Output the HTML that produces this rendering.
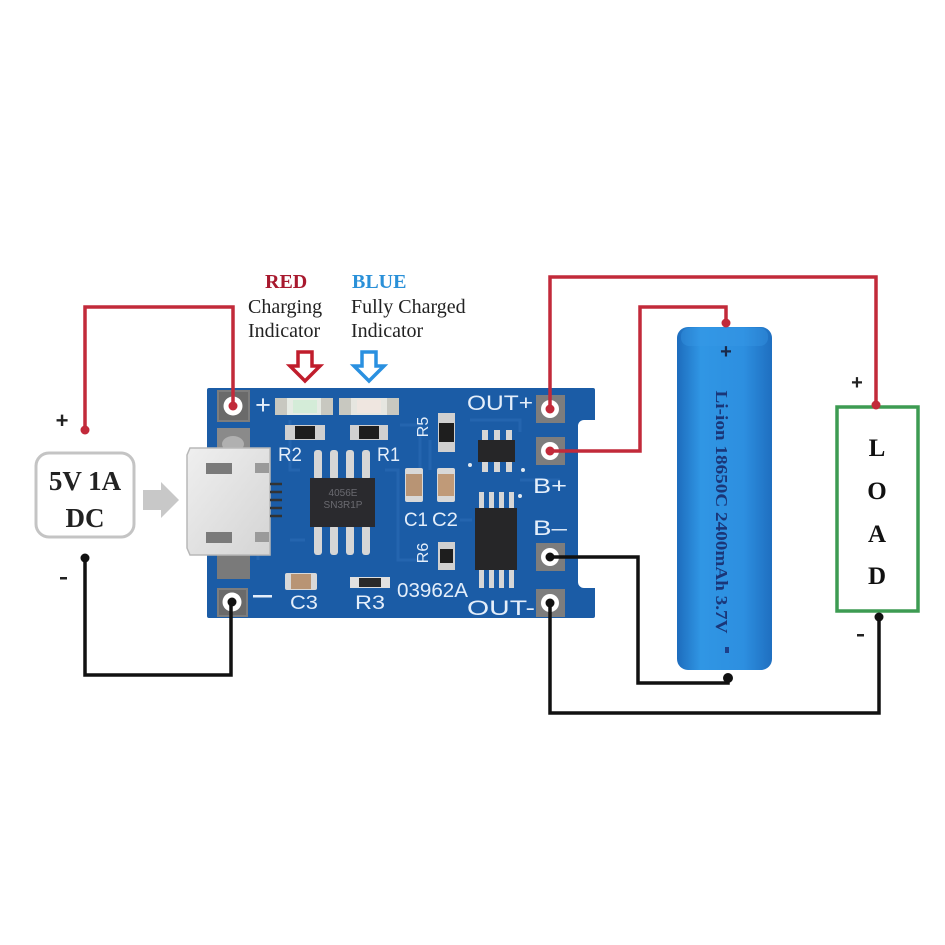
<!DOCTYPE html>
<html><head><meta charset="utf-8"><style>
html,body{margin:0;padding:0;background:#fff;}
svg{display:block;}
</style></head><body>
<svg width="945" height="945" viewBox="0 0 945 945" xmlns="http://www.w3.org/2000/svg">
<defs>
<linearGradient id="bat" x1="0" y1="0" x2="1" y2="0">
<stop offset="0" stop-color="#1d6cbd"/>
<stop offset="0.25" stop-color="#3096e4"/>
<stop offset="0.7" stop-color="#2d8fe0"/>
<stop offset="1" stop-color="#1f6fc0"/>
</linearGradient>
<linearGradient id="usb" x1="0" y1="0" x2="1" y2="1">
<stop offset="0" stop-color="#efefef"/>
<stop offset="1" stop-color="#d4d4d4"/>
</linearGradient>
</defs>
<rect width="945" height="945" fill="#fff"/>

<!-- Top annotation -->
<g font-family="Liberation Serif, serif" font-size="20">
<text x="265" y="288" font-weight="bold" fill="#a8192e">RED</text>
<text x="248" y="313" fill="#222">Charging</text>
<text x="248" y="337" fill="#222">Indicator</text>
<text x="352" y="288" font-weight="bold" fill="#2a90d8">BLUE</text>
<text x="351" y="313" fill="#222">Fully Charged</text>
<text x="351" y="337" fill="#222">Indicator</text>
</g>
<polygon points="298,352 312,352 312,366 320,366 305,381 290,366 298,366" fill="#fff" stroke="#c01d2c" stroke-width="3.5"/>
<polygon points="362,352 376,352 376,366 384,366 369,381 354,366 362,366" fill="#fff" stroke="#2a90e0" stroke-width="3.5"/>

<!-- DC box -->
<rect x="36" y="453" width="98" height="84" rx="13" fill="#fff" stroke="#c4c4c4" stroke-width="3"/>
<g font-family="Liberation Serif, serif" font-weight="bold" font-size="27" fill="#222" text-anchor="middle">
<text x="85" y="490">5V 1A</text>
<text x="85" y="527">DC</text>
</g>
<text x="62" y="428" font-family="Liberation Sans, sans-serif" font-size="22" font-weight="bold" fill="#222" text-anchor="middle">+</text>
<rect x="60" y="577" width="7" height="2.5" fill="#222"/>
<polygon points="143,490 161,490 161,482 179,500 161,518 161,510 143,510" fill="#c8c8c8"/>

<!-- PCB -->
<path d="M209,388 H593 a2,2 0 0 1 2,2 V420 H584 a6,6 0 0 0 -6,6 V582 a6,6 0 0 0 6,6 H595 V616 a2,2 0 0 1 -2,2 H209 a2,2 0 0 1 -2,-2 V390 a2,2 0 0 1 2,-2 Z" fill="#1b5ca6"/>
<!-- traces -->
<g stroke="#2a6cb6" stroke-width="3" fill="none" opacity="0.6">
<path d="M290,420 V470 H300"/>
<path d="M400,425 H420 V470"/>
<path d="M430,440 V470"/>
<path d="M470,420 H520 V432"/>
<path d="M520,480 H560"/>
<path d="M290,540 H305"/>
<path d="M385,470 H398 V560 H420"/>
<path d="M460,520 H472"/>
<path d="M258,470 V560"/>
</g>
<!-- left pads -->
<rect x="217" y="390" width="33" height="32" fill="#7d7d7d"/>
<rect x="219" y="392" width="29" height="28" fill="#6a6a6a"/>
<rect x="217" y="428" width="33" height="24" fill="#8a8a8a"/>
<ellipse cx="233" cy="444" rx="11" ry="8" fill="#b0b0b0"/>
<rect x="217" y="555" width="33" height="24" fill="#7a7a7a"/>
<rect x="217" y="588" width="31" height="29" fill="#7d7d7d"/>
<rect x="219" y="590" width="27" height="25" fill="#6a6a6a"/>
<!-- right pads -->
<g fill="#7d7d7d">
<rect x="536" y="395" width="29" height="28"/>
<rect x="536" y="437" width="29" height="28"/>
<rect x="536" y="543" width="29" height="28"/>
<rect x="536" y="589" width="29" height="28"/>
</g>
<g fill="#fff">
<circle cx="233" cy="406" r="9.5"/>
<circle cx="232" cy="602" r="9.5"/>
<circle cx="550" cy="409" r="9"/>
<circle cx="550" cy="451" r="9"/>
<circle cx="550" cy="557" r="9"/>
<circle cx="550" cy="603" r="9"/>
</g>

<!-- LEDs -->
<rect x="275" y="398" width="58" height="17" fill="#e6ebe4"/>
<rect x="275" y="398" width="12" height="17" fill="#c8c8c0"/>
<rect x="321" y="398" width="12" height="17" fill="#c8c8c0"/>
<rect x="293" y="400" width="24" height="13" fill="#d4ecd8"/>
<rect x="339" y="398" width="60" height="17" fill="#e6e6e0"/>
<rect x="339" y="398" width="12" height="17" fill="#c8c8c0"/>
<rect x="387" y="398" width="12" height="17" fill="#c8c8c0"/>
<rect x="357" y="400" width="24" height="13" fill="#efe6e0"/>

<!-- resistors -->
<g>
<rect x="285" y="425" width="40" height="15" fill="#d0d0d0"/>
<rect x="295" y="426" width="20" height="13" fill="#1e1e1e"/>
<rect x="350" y="425" width="38" height="15" fill="#d0d0d0"/>
<rect x="359" y="426" width="20" height="13" fill="#1e1e1e"/>
<rect x="438" y="413" width="17" height="39" fill="#d0d0d0"/>
<rect x="439" y="423" width="15" height="19" fill="#1e1e1e"/>
<rect x="438" y="542" width="17" height="28" fill="#d0d0d0"/>
<rect x="440" y="549" width="13" height="14" fill="#1e1e1e"/>
<rect x="350" y="577" width="40" height="11" fill="#e0e0e0"/>
<rect x="359" y="578" width="22" height="9" fill="#2a2a2a"/>
</g>
<!-- capacitors -->
<rect x="405" y="468" width="18" height="34" rx="2" fill="#d8d8d8"/>
<rect x="406" y="474" width="16" height="22" fill="#b89474"/>
<rect x="437" y="468" width="18" height="34" rx="2" fill="#d8d8d8"/>
<rect x="438" y="474" width="16" height="22" fill="#c09a78"/>
<rect x="285" y="573" width="32" height="17" rx="2" fill="#d8d8d8"/>
<rect x="291" y="574" width="20" height="15" fill="#b89474"/>

<!-- USB -->
<path d="M190,448 H270 V555 H190 L187,548 V455 Z" fill="url(#usb)" stroke="#b8b8b8" stroke-width="1.5"/>
<rect x="206" y="463" width="26" height="11" fill="#7a7a7a"/>
<rect x="206" y="532" width="26" height="11" fill="#7a7a7a"/>
<rect x="255" y="463" width="14" height="10" fill="#9a9a9a"/>
<rect x="255" y="532" width="14" height="10" fill="#9a9a9a"/>
<g stroke="#333" stroke-width="2.5">
<line x1="270" y1="484" x2="282" y2="484"/>
<line x1="270" y1="492" x2="282" y2="492"/>
<line x1="270" y1="500" x2="282" y2="500"/>
<line x1="270" y1="508" x2="282" y2="508"/>
<line x1="270" y1="516" x2="282" y2="516"/>
</g>

<!-- IC1 -->
<g fill="#d6d6d6">
<rect x="314" y="450" width="8" height="30" rx="3"/>
<rect x="330" y="450" width="8" height="30" rx="3"/>
<rect x="346" y="450" width="8" height="30" rx="3"/>
<rect x="362" y="450" width="8" height="30" rx="3"/>
<rect x="314" y="525" width="8" height="30" rx="3"/>
<rect x="330" y="525" width="8" height="30" rx="3"/>
<rect x="346" y="525" width="8" height="30" rx="3"/>
<rect x="362" y="525" width="8" height="30" rx="3"/>
</g>
<rect x="310" y="478" width="65" height="49" fill="#2a2a2e"/>
<text x="343" y="496" font-family="Liberation Sans, sans-serif" font-size="10" fill="#6a6a70" text-anchor="middle">4056E</text>
<text x="343" y="508" font-family="Liberation Sans, sans-serif" font-size="10" fill="#6a6a70" text-anchor="middle">SN3R1P</text>

<!-- IC2 -->
<g fill="#d6d6d6">
<rect x="482" y="430" width="6" height="12"/>
<rect x="494" y="430" width="6" height="12"/>
<rect x="506" y="430" width="6" height="12"/>
<rect x="482" y="460" width="6" height="12"/>
<rect x="494" y="460" width="6" height="12"/>
<rect x="506" y="460" width="6" height="12"/>
</g>
<rect x="478" y="440" width="37" height="22" fill="#262628"/>
<!-- IC3 -->
<g fill="#d6d6d6">
<rect x="479" y="492" width="5" height="17"/>
<rect x="489" y="492" width="5" height="17"/>
<rect x="499" y="492" width="5" height="17"/>
<rect x="509" y="492" width="5" height="17"/>
<rect x="479" y="569" width="5" height="19"/>
<rect x="489" y="569" width="5" height="19"/>
<rect x="499" y="569" width="5" height="19"/>
<rect x="509" y="569" width="5" height="19"/>
</g>
<rect x="475" y="508" width="42" height="62" fill="#262628"/>
<g fill="#e0e8f0">
<circle cx="470" cy="465" r="2"/>
<circle cx="523" cy="470" r="2"/>
<circle cx="520" cy="496" r="2"/>
</g>

<!-- silkscreen labels -->
<g font-family="Liberation Sans, sans-serif" fill="#e4eefa">
<text x="263" y="414" font-size="27" text-anchor="middle">+</text>
<rect x="253" y="595" width="19" height="2.5"/>
<text x="278" y="461" font-size="19" textLength="24" lengthAdjust="spacingAndGlyphs">R2</text>
<text x="377" y="461" font-size="19" textLength="23" lengthAdjust="spacingAndGlyphs">R1</text>
<text transform="translate(428,427) rotate(-90)" font-size="16" text-anchor="middle">R5</text>
<text transform="translate(428,553) rotate(-90)" font-size="16" text-anchor="middle">R6</text>
<text x="404" y="526" font-size="19" textLength="24" lengthAdjust="spacingAndGlyphs">C1</text>
<text x="432" y="526" font-size="19" textLength="26" lengthAdjust="spacingAndGlyphs">C2</text>
<text x="290" y="609" font-size="19" textLength="28" lengthAdjust="spacingAndGlyphs">C3</text>
<text x="355" y="609" font-size="19" textLength="30" lengthAdjust="spacingAndGlyphs">R3</text>
<text x="397" y="597" font-size="20" textLength="71" lengthAdjust="spacingAndGlyphs">03962A</text>
<text x="467" y="410" font-size="21" textLength="66" lengthAdjust="spacingAndGlyphs">OUT+</text>
<text x="533" y="493" font-size="21" textLength="34" lengthAdjust="spacingAndGlyphs">B+</text>
<text x="533" y="535" font-size="21" textLength="34" lengthAdjust="spacingAndGlyphs">B–</text>
<text x="467" y="615" font-size="21" textLength="68" lengthAdjust="spacingAndGlyphs">OUT-</text>
</g>

<!-- Battery -->
<rect x="677" y="327" width="95" height="343" rx="11" fill="url(#bat)"/>
<rect x="681" y="328" width="87" height="18" rx="8" fill="#3a9ce8" opacity="0.35"/>
<text x="726" y="358" font-family="Liberation Sans, sans-serif" font-size="20" font-weight="bold" fill="#1a2a4a" text-anchor="middle">+</text>
<text transform="translate(716,512) rotate(90)" font-family="Liberation Serif, serif" font-size="17" font-weight="bold" fill="#1a3678" text-anchor="middle" textLength="243" lengthAdjust="spacingAndGlyphs">Li-ion 18650C 2400mAh 3.7V</text>
<rect x="725" y="647" width="4" height="6" fill="#1d3f8a"/>

<!-- LOAD box -->
<rect x="837" y="407" width="81" height="204" fill="#fff" stroke="#3d9b52" stroke-width="3.5"/>
<g font-family="Liberation Serif, serif" font-weight="bold" font-size="25" fill="#111" text-anchor="middle">
<text x="877" y="456">L</text>
<text x="877" y="499">O</text>
<text x="877" y="542">A</text>
<text x="877" y="584">D</text>
</g>
<text x="857" y="389" font-family="Liberation Sans, sans-serif" font-size="20" font-weight="bold" fill="#222" text-anchor="middle">+</text>
<rect x="857" y="634" width="7" height="2.5" fill="#222"/>

<!-- Wires -->
<g fill="none" stroke-width="3.5" stroke-linejoin="miter">
<path d="M85,430 V307 H233 V406" stroke="#c22a3a"/>
<path d="M550,409 V277 H876 V405" stroke="#c22a3a"/>
<path d="M550,451 H640 V307 H726 V323" stroke="#c22a3a"/>
<path d="M85,558 V675 H231 V602" stroke="#111"/>
<path d="M550,557 H638 V683 H728 V678" stroke="#111"/>
<path d="M550,603 V713 H879 V617" stroke="#111"/>
</g>
<g fill="#c22a3a">
<circle cx="85" cy="430" r="4.5"/>
<circle cx="876" cy="405" r="4.5"/>
<circle cx="726" cy="323" r="4.5"/>
<circle cx="233" cy="406" r="4.5"/>
<circle cx="550" cy="409" r="4.5"/>
<circle cx="550" cy="451" r="4.5"/>
</g>
<g fill="#111">
<circle cx="85" cy="558" r="4.5"/>
<circle cx="728" cy="678" r="5"/>
<circle cx="879" cy="617" r="4.5"/>
<circle cx="232" cy="602" r="4.5"/>
<circle cx="550" cy="557" r="4.5"/>
<circle cx="550" cy="603" r="4.5"/>
</g>
</svg>
</body></html>
